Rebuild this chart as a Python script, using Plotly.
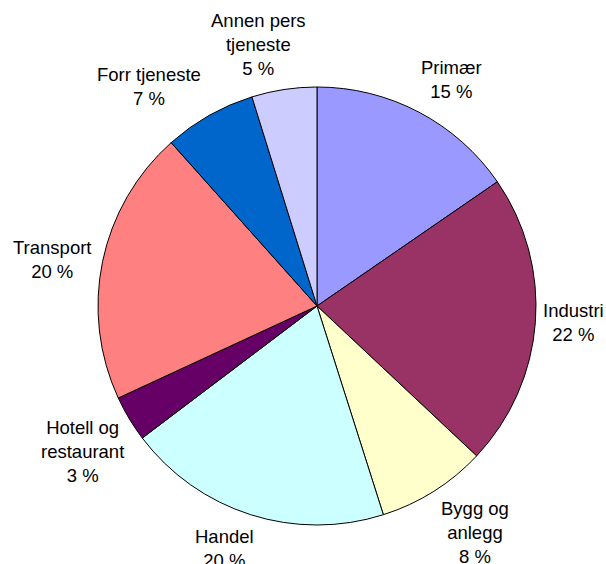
import plotly.graph_objects as go

categories = ["Primær", "Industri", "Bygg og<br>anlegg", "Handel",
              "Hotell og<br>restaurant", "Transport", "Forr tjeneste",
              "Annen pers<br>tjeneste"]
shares = [15.4, 21.6, 8.1, 19.6, 3.4, 20.3, 6.8, 4.8]
colors = ["#9999FF", "#993366", "#FFFFCC", "#CCFFFF",
          "#660066", "#FF8080", "#0066CC", "#CCCCFF"]

# label block centres in pixels (layout only)
label_xy = [(451, 79), (573, 322), (475, 532), (224, 548),
            (82, 451), (52, 259), (149, 86), (258, 45)]

W, H = 606, 564
cx, cy, r = 317, 306, 219
FONT = "Liberation Sans, Arial, sans-serif"

fig = go.Figure(go.Pie(
    labels=categories,
    values=shares,
    sort=False,
    direction="clockwise",
    rotation=0,
    marker=dict(colors=colors, line=dict(color="black", width=1)),
    textinfo="none",
    hoverinfo="label+percent",
    domain=dict(x=[(cx - r) / W, (cx + r) / W],
                y=[(H - cy - r) / H, (H - cy + r) / H]),
    showlegend=False,
))

for lab, val, (x, y) in zip(categories, shares, label_xy):
    fig.add_annotation(
        x=x / W, y=1 - y / H, xref="paper", yref="paper",
        text=f"{lab}<br>{round(val)} %", showarrow=False,
        xanchor="center", yanchor="middle", align="center",
        font=dict(family=FONT, size=18.5, color="black"),
    )

fig.update_layout(
    width=W, height=H,
    margin=dict(l=0, r=0, t=0, b=0),
    paper_bgcolor="white",
    plot_bgcolor="white",
    showlegend=False,
)

fig.write_html("out.html",
               config={"displayModeBar": False},
               post_script="document.body.style.margin='0';document.body.style.overflow='hidden';")
